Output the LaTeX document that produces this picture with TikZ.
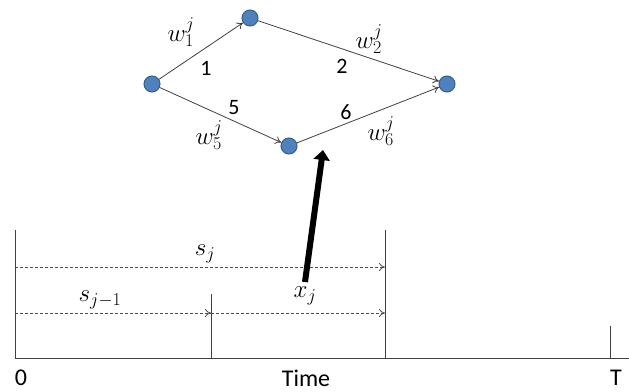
\RequirePackage{fix-cm}
\documentclass[tikz,border=0pt]{standalone}
\usepackage{fontspec}
\setmainfont{Carlito}
\DeclareMathSizes{25}{25}{18}{14}
\usetikzlibrary{arrows.meta}
\definecolor{nodeblue}{HTML}{4F81BD}
\definecolor{nodeedge}{HTML}{385D8A}
\definecolor{edgegray}{HTML}{404040}
\tikzset{
  vert/.style={circle, fill=nodeblue, draw=nodeedge, line width=1pt, minimum size=16pt, inner sep=0pt},
  edge/.style={draw=edgegray, line width=0.8pt, -{To[length=6pt,width=8pt]}},
  lbl/.style={font=\fontsize{22}{26}\selectfont, inner sep=0pt},
  tlbl/.style={font=\fontsize{24}{28}\selectfont, inner sep=0pt},
  mlbl/.style={font=\fontsize{25}{30}\selectfont, inner sep=0pt},
  tline/.style={draw=black!75, line width=0.8pt},
  darr/.style={draw=black!70, dashed, dash pattern=on 3pt off 2pt, line width=0.8pt, -{To[length=6pt,width=8pt]}},
}
\begin{document}
\begin{tikzpicture}[x=1pt,y=-1pt]
\useasboundingbox (0,0) rectangle (629,391);
% graph
\node[vert] (a) at (152,84) {};
\node[vert] (b) at (250,18) {};
\node[vert] (c) at (447,84) {};
\node[vert] (d) at (289,146) {};
\draw[edge] (a) -- (b);
\draw[edge] (b) -- (c);
\draw[edge] (a) -- (d);
\draw[edge] (d) -- (c);
\node[mlbl] (w1) at (181,32) {$w_1^j$};
\node[lbl] (n1) at (206,68) {1};
\node[lbl] (n2) at (342,66) {2};
\node[mlbl] (w2) at (369,39) {$w_2^j$};
\node[lbl] (n5) at (234,108) {5};
\node[mlbl] (w5) at (209,135) {$w_5^j$};
\node[lbl] (n6) at (346,112) {6};
\node[mlbl] (w6) at (381,131) {$w_6^j$};
% timeline
\coordinate (o) at (15,358);
\coordinate (e) at (629,358);
\coordinate (l0) at (15,230);
\coordinate (m0) at (211,294);
\coordinate (m1) at (211,358);
\coordinate (r0) at (385,230);
\coordinate (r1) at (385,358);
\coordinate (t0) at (610,326);
\coordinate (t1) at (610,358);
\draw[tline] (l0) -- (o) -- (e);
\draw[tline] (m0) -- (m1);
\draw[tline] (r0) -- (r1);
\draw[tline] (t0) -- (t1);
\coordinate (sa) at (15,267);
\coordinate (sb) at (385,267);
\coordinate (pa) at (15,313);
\coordinate (pb) at (211,313);
\coordinate (pc) at (385,313);
\draw[darr] (sa) -- (sb);
\draw[darr] (pa) -- (pb);
\draw[darr] (pb) -- (pc);
\node[mlbl] (sj) at (205,254) {$s_j$};
\node[mlbl] (sj1) at (100,300) {$s_{j-1}$};
\node[mlbl] (xj) at (305,296) {$x_j$};
\coordinate (xs) at (305,282);
\coordinate (xe) at (323,150);
\draw[line width=6pt, -{Triangle[length=10pt,width=16pt]}] (xs) -- (xe);
\node[tlbl] (zero) at (21,378) {0};
\node[tlbl] (time) at (306,378) {Time};
\node[tlbl] (T) at (616,378) {T};
\end{tikzpicture}
\end{document}
